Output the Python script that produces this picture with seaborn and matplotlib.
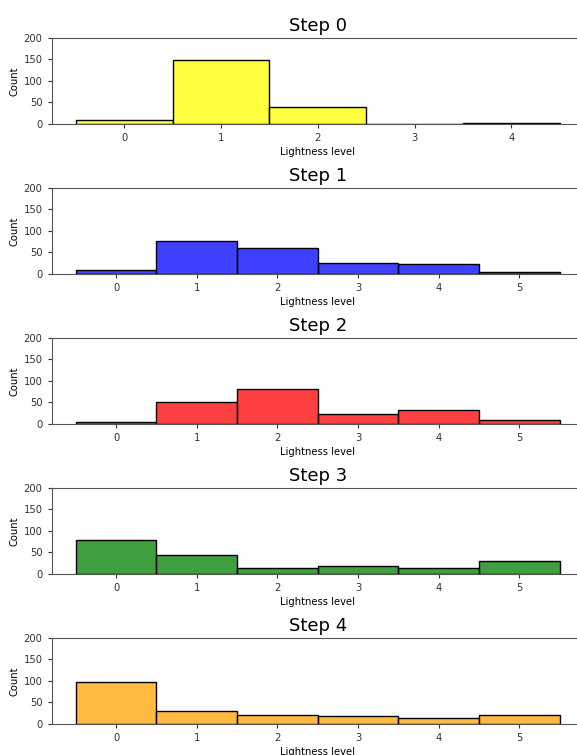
import numpy as np
import pandas as pd
import matplotlib
matplotlib.use("Agg")
import matplotlib.pyplot as plt
import seaborn as sns

# ---- data ----
step_titles = ["Step 0", "Step 1", "Step 2", "Step 3", "Step 4"]
step_colors = ["yellow", "blue", "red", "green", "orange"]

levels_step0 = [0, 1, 2, 3, 4]
levels_other = [0, 1, 2, 3, 4, 5]

counts_step0 = [10, 148, 39, 1, 2]
counts_step1 = [9, 76, 61, 26, 23, 5]
counts_step2 = [4, 51, 81, 22, 32, 10]
counts_step3 = [79, 44, 13, 18, 15, 31]
counts_step4 = [97, 30, 21, 18, 13, 21]

y_ticks = [0, 50, 100, 150, 200]

levels_all = [levels_step0, levels_other, levels_other, levels_other, levels_other]
counts_all = [counts_step0, counts_step1, counts_step2, counts_step3, counts_step4]

plt.rcParams["font.family"] = ["DejaVu Sans"]

W, H = 577, 755
fig = plt.figure(figsize=(W / 100, H / 100), dpi=100)

left_px, right_px = 51.5, 584.0
ax_h_px = 86.5
for i in range(5):
    top_px = 37.5 + 150 * i
    bottom_frac = 1 - (top_px + ax_h_px) / H
    ax = fig.add_axes([left_px / W, bottom_frac, (right_px - left_px) / W, ax_h_px / H])
    df = pd.DataFrame({"level": levels_all[i], "count": counts_all[i]})
    sns.histplot(data=df, x="level", weights="count", discrete=True,
                 color=step_colors[i], edgecolor="black", linewidth=1.0,
                 alpha=0.75, ax=ax)
    ax.set_ylim(0, 200)
    ax.set_yticks(y_ticks)
    ax.set_xticks(levels_all[i])
    ax.set_title(step_titles[i], fontsize=13, pad=5)
    ax.set_xlabel("Lightness level", fontsize=7.2, labelpad=3)
    ax.set_ylabel("Count", fontsize=7.2, labelpad=3)
    ax.tick_params(labelsize=7.2, length=3, width=0.8, colors="#333333")
    for s in ax.spines.values():
        s.set_color("#555555")

fig.savefig("out.png", dpi=100)
